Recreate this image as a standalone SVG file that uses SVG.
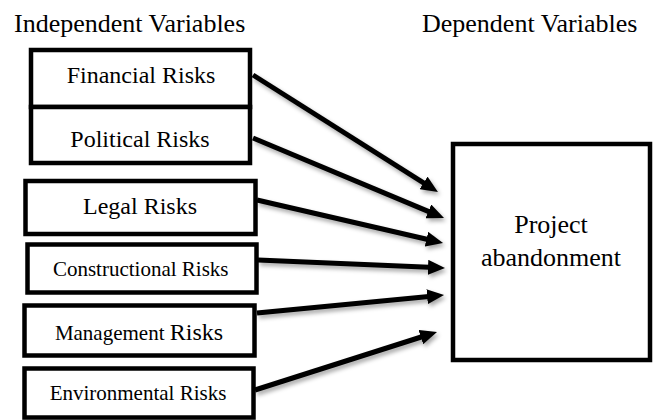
<svg xmlns="http://www.w3.org/2000/svg" width="655" height="420" viewBox="0 0 655 420">
<defs>
<style>
.t{font-family:"Liberation Serif","Times New Roman",serif;fill:#000;}
.box{fill:#fff;stroke:#000;stroke-width:4.5;}
.c{stroke:#000;stroke-width:5;fill:none;marker-end:url(#ah);}
</style>
<marker id="ah" markerUnits="userSpaceOnUse" markerWidth="17" markerHeight="15" refX="7" refY="7.5" orient="auto" viewBox="0 0 17 15">
<path d="M0,0 L17,7.5 L0,15 z" fill="#000"/>
</marker>
<filter id="sh" x="-10%" y="-10%" width="130%" height="140%">
<feDropShadow dx="2" dy="3" stdDeviation="2" flood-color="#000" flood-opacity="0.35"/>
</filter>
</defs>
<rect width="655" height="420" fill="#fff"/>
<text class="t" x="14" y="31.5" font-size="26">Independent Variables</text>
<text class="t" x="422" y="31.5" font-size="26">Dependent Variables</text>
<g id="connectors" filter="url(#sh)">
<line class="c" x1="253" y1="75" x2="429.5" y2="186.7"/>
<line class="c" x1="253" y1="138" x2="434.8" y2="214.1"/>
<line class="c" x1="257" y1="200" x2="433.3" y2="240.7"/>
<line class="c" x1="258" y1="260" x2="435" y2="267.6"/>
<line class="c" x1="257" y1="313" x2="434.1" y2="296"/>
<line class="c" x1="255" y1="390" x2="427.5" y2="335"/>
</g>
<g id="financial">
<rect class="box" x="31" y="50" width="219" height="57"/>
<text class="t" x="141" y="83" font-size="24" text-anchor="middle">Financial Risks</text>
</g>
<g id="political">
<rect class="box" x="31" y="107" width="219" height="56"/>
<text class="t" x="140" y="146.5" font-size="24" text-anchor="middle">Political Risks</text>
</g>
<g id="legal">
<rect class="box" x="25.5" y="181" width="230" height="53"/>
<text class="t" x="140" y="214" font-size="24" text-anchor="middle">Legal Risks</text>
</g>
<g id="constructional">
<rect class="box" x="27.5" y="244.5" width="229" height="48"/>
<text class="t" x="140.7" y="275.5" font-size="21" text-anchor="middle">Constructional Risks</text>
</g>
<g id="management">
<rect class="box" x="24.5" y="305.5" width="230" height="50"/>
<text class="t" x="139" y="340" font-size="21" text-anchor="middle">Management <tspan font-size="24">Risks</tspan></text>
</g>
<g id="environmental">
<rect class="box" x="24.5" y="368.5" width="229" height="49"/>
<text class="t" x="138" y="400" font-size="21" text-anchor="middle">Environmental Risks</text>
</g>
<g id="project">
<rect class="box" x="453" y="144" width="197" height="216"/>
<text class="t" x="551" y="233" font-size="26" text-anchor="middle">Project</text>
<text class="t" x="551" y="266" font-size="26" text-anchor="middle">abandonment</text>
</g>
</svg>
